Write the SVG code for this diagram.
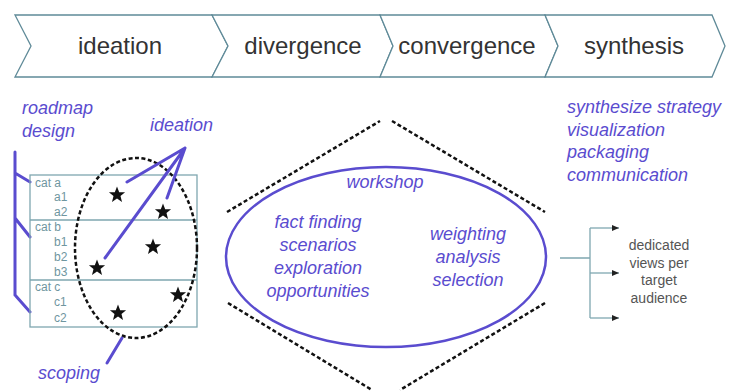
<svg xmlns="http://www.w3.org/2000/svg" width="730" height="392" viewBox="0 0 730 392">
<style>
.band{fill:#fff;stroke:#5f8a98;stroke-width:1.3}
.bt{font-family:"Liberation Sans",Arial,sans-serif;font-size:24px;fill:#333;text-anchor:middle}
.pt{font-family:"Liberation Sans",Arial,sans-serif;font-size:18px;font-style:italic;fill:#5a4ccf}
.tt{font-family:"Liberation Sans",Arial,sans-serif;font-size:12px;fill:#6f969f}
.gt{font-family:"Liberation Sans",Arial,sans-serif;font-size:14px;fill:#555;text-anchor:middle}
.pl{stroke:#5a4ccf;stroke-width:3;fill:none;stroke-linecap:round}
.dash{stroke:#111;stroke-width:2.5;fill:none;stroke-dasharray:4 2.5}
.tl{stroke:#7fa7b0;stroke-width:1.3;fill:none}
</style>
<defs>
<polygon id="star" points="0,-8.5 2.2,-2.8 8.1,-2.7 3.5,1.1 5,6.9 0,3.6 -5,6.9 -3.5,1.1 -8.1,-2.7 -2.2,-2.8" fill="#111"/>
<marker id="ah" markerWidth="8" markerHeight="8" refX="7" refY="4" orient="auto" markerUnits="userSpaceOnUse">
<path d="M0,1 L7,4 L0,7 Z" fill="#222"/>
</marker>
</defs>
<rect width="730" height="392" fill="#fff"/>
<g id="band">
<g id="s-ideation"><polygon class="band" points="15,15 212,15 228,46 212,77 15,77 31,46"/><text class="bt" x="120" y="54">ideation</text></g>
<g id="s-divergence"><polygon class="band" points="212,15 380,15 393,46 380,77 212,77 228,46"/><text class="bt" x="303" y="54">divergence</text></g>
<g id="s-convergence"><polygon class="band" points="380,15 545,15 558,46 545,77 380,77 393,46"/><text class="bt" x="467" y="54">convergence</text></g>
<g id="s-synthesis"><polygon class="band" points="545,15 712,15 725,46 712,77 545,77 558,46"/><text class="bt" x="634" y="54">synthesis</text></g>
</g>
<g id="roadmap">
<text class="pt" x="22" y="114">roadmap</text>
<text class="pt" x="22" y="137">design</text>
<path class="pl" d="M15,152 V295 M15,173 L30,182 M15,218 L30,237 M15,295 L30,312"/>
</g>
<g id="table">
<rect class="tl" x="30" y="175" width="167" height="152"/>
<path class="tl" d="M30,220 H197 M30,280 H197"/>
<text class="tt" x="35" y="187">cat a</text>
<text class="tt" x="54" y="201">a1</text>
<text class="tt" x="54" y="216">a2</text>
<text class="tt" x="35" y="231">cat b</text>
<text class="tt" x="54" y="246">b1</text>
<text class="tt" x="54" y="261">b2</text>
<text class="tt" x="54" y="276">b3</text>
<text class="tt" x="35" y="291">cat c</text>
<text class="tt" x="54" y="306">c1</text>
<text class="tt" x="54" y="322">c2</text>
</g>
<g id="scope">
<ellipse class="dash" cx="136" cy="248" rx="61" ry="90"/>
<use href="#star" x="117" y="195"/>
<use href="#star" x="163" y="212"/>
<use href="#star" x="153" y="247"/>
<use href="#star" x="97" y="268"/>
<use href="#star" x="178" y="295"/>
<use href="#star" x="118" y="313"/>
</g>
<g id="ideation-label"><text class="pt" x="150" y="131">ideation</text></g>
<g id="scoping-label"><text class="pt" x="38" y="379">scoping</text></g>
<g id="workshop">
<ellipse cx="386" cy="257" rx="160" ry="90" fill="none" stroke="#5a4ccf" stroke-width="2.5"/>
<text class="pt" x="385" y="188" text-anchor="middle">workshop</text>
<text class="pt" x="318" y="228" text-anchor="middle">fact finding</text>
<text class="pt" x="318" y="251" text-anchor="middle">scenarios</text>
<text class="pt" x="318" y="274" text-anchor="middle">exploration</text>
<text class="pt" x="318" y="297" text-anchor="middle">opportunities</text>
<text class="pt" x="468" y="240" text-anchor="middle">weighting</text>
<text class="pt" x="468" y="263" text-anchor="middle">analysis</text>
<text class="pt" x="468" y="286" text-anchor="middle">selection</text>
</g>
<g id="synthesis-tasks">
<text class="pt" x="567" y="113">synthesize strategy</text>
<text class="pt" x="567" y="136">visualization</text>
<text class="pt" x="567" y="158">packaging</text>
<text class="pt" x="567" y="181">communication</text>
</g>
<g id="views">
<text class="gt" x="659" y="250">dedicated</text>
<text class="gt" x="659" y="268">views per</text>
<text class="gt" x="659" y="285">target</text>
<text class="gt" x="659" y="303">audience</text>
</g>
<g id="connectors">
<path class="pl" d="M127,182 L185,148 M167,198 L185,148 M105,258 L185,148"/>
<path class="pl" d="M122,338 L107,363"/>
<path class="dash" d="M227,212 L380,121 M392,121 L545,212 M228,303 L372,390 M545,303 L400,390"/>
<path class="tl" d="M560,258 H590 M590,228 V318"/>
<path class="tl" d="M590,228 H619" marker-end="url(#ah)"/>
<path class="tl" d="M590,273 H619" marker-end="url(#ah)"/>
<path class="tl" d="M590,318 H619" marker-end="url(#ah)"/>
</g>
</svg>
